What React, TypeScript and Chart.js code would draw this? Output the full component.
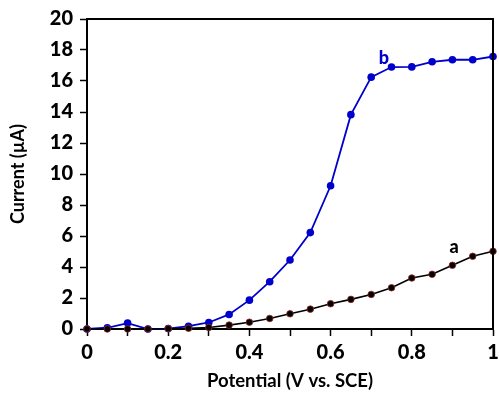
import React, { useEffect, useRef } from "react";
import { Chart, registerables } from "chart.js";

Chart.register(...registerables);

// Applied potential, V vs. SCE
const potentials = [
  0, 0.05, 0.1, 0.15, 0.2, 0.25, 0.3, 0.35, 0.4, 0.45, 0.5,
  0.55, 0.6, 0.65, 0.7, 0.75, 0.8, 0.85, 0.9, 0.95, 1.0,
];

// Curve a (µA)
const currentA = [
  0.0, 0.0, 0.0, 0.0, 0.02, 0.05, 0.1, 0.25, 0.44, 0.68, 0.98,
  1.28, 1.63, 1.91, 2.23, 2.66, 3.29, 3.53, 4.11, 4.69, 5.01,
];

// Curve b (µA)
const currentB = [
  0.0, 0.08, 0.38, 0.0, 0.03, 0.18, 0.42, 0.94, 1.86, 3.05, 4.45,
  6.22, 9.24, 13.83, 16.25, 16.9, 16.91, 17.24, 17.37, 17.37, 17.58,
];

// Curve tags and where they sit (data coordinates)
const tagText = ["a", "b"];
const tagPos = [
  { x: 0.904, y: 5.3 },
  { x: 0.731, y: 17.5 },
];

const FONT = "Lato, 'Open Sans', sans-serif";
const BLUE = "#0000cc";

const framePlugin = {
  id: "frameAndTags",
  afterDatasetsDraw(chart: any) {
    const { ctx, chartArea, scales } = chart;
    ctx.save();
    ctx.strokeStyle = "#000";
    ctx.lineWidth = 2;
    ctx.beginPath();
    ctx.moveTo(chartArea.left, chartArea.top);
    ctx.lineTo(chartArea.right, chartArea.top);
    ctx.lineTo(chartArea.right, chartArea.bottom);
    ctx.stroke();

    ctx.font = `900 18px ${FONT}`;
    ctx.textAlign = "center";
    ctx.textBaseline = "middle";
    tagText.forEach((t, i) => {
      ctx.fillStyle = i === 0 ? "#000" : BLUE;
      ctx.fillText(t, scales.x.getPixelForValue(tagPos[i].x), scales.y.getPixelForValue(tagPos[i].y));
    });
    ctx.restore();
  },
};

export default function App() {
  const ref = useRef<HTMLCanvasElement | null>(null);

  useEffect(() => {
    if (!ref.current) return;
    const chart = new Chart(ref.current, {
      type: "line",
      data: {
        datasets: [
          {
            label: "a",
            data: potentials.map((x, i) => ({ x, y: currentA[i] })),
            borderColor: "#000",
            borderWidth: 1.6,
            pointBackgroundColor: "#000",
            pointBorderColor: "#9b2a2a",
            pointBorderWidth: 0.8,
            pointRadius: 3.3,
            tension: 0,
            clip: false,
          },
          {
            label: "b",
            data: potentials.map((x, i) => ({ x, y: currentB[i] })),
            borderColor: BLUE,
            borderWidth: 1.8,
            pointBackgroundColor: BLUE,
            pointBorderColor: BLUE,
            pointBorderWidth: 0,
            pointRadius: 3.8,
            tension: 0,
            clip: false,
          },
        ],
      },
      options: {
        animation: false,
        responsive: false,
        layout: { padding: { left: 0, top: 19, right: 6, bottom: 0 } },
        plugins: { legend: { display: false }, tooltip: { enabled: false } },
        scales: {
          x: {
            type: "linear",
            min: 0,
            max: 1,
            ticks: {
              stepSize: 0.1,
              autoSkip: false,
              maxRotation: 0,
              color: "#000",
              padding: 5,
              font: { family: FONT, size: 20, weight: "900" },
              callback: (v: any) => {
                const t = Math.round(Number(v) * 10);
                return t % 2 === 0 ? String(t / 10) : "";
              },
            },
            grid: {
              drawOnChartArea: false,
              drawTicks: true,
              tickLength: 7,
              tickColor: "#000",
              tickWidth: 1.5,
            },
            border: { color: "#000", width: 2 },
            title: {
              display: true,
              text: "Potential (V vs. SCE)",
              color: "#000",
              font: { family: FONT, size: 18.5, weight: "bold" },
              padding: { top: 0, bottom: 3 },
            },
            afterFit: (s: any) => {
              s.height = 66;
              s.paddingLeft = 0;
              s.paddingRight = 0;
            },
          },
          y: {
            min: 0,
            max: 20,
            ticks: {
              stepSize: 2,
              color: "#000",
              padding: 7,
              font: { family: FONT, size: 20, weight: "900" },
            },
            grid: {
              drawOnChartArea: false,
              drawTicks: true,
              tickLength: 7,
              tickColor: "#000",
              tickWidth: 1.5,
            },
            border: { color: "#000", width: 2 },
            title: {
              display: true,
              text: "Current (µA)",
              color: "#000",
              font: { family: FONT, size: 18, weight: "bold" },
              padding: { top: 7, bottom: 0 },
            },
            afterFit: (s: any) => {
              s.width = 87;
              s.paddingTop = 0;
              s.paddingBottom = 0;
            },
          },
        },
      },
      plugins: [framePlugin],
    });
    return () => chart.destroy();
  }, []);

  return (
    <canvas
      ref={ref}
      width={499}
      height={395}
      style={{ position: "absolute", left: 0, top: 0, display: "block" }}
    />
  );
}
